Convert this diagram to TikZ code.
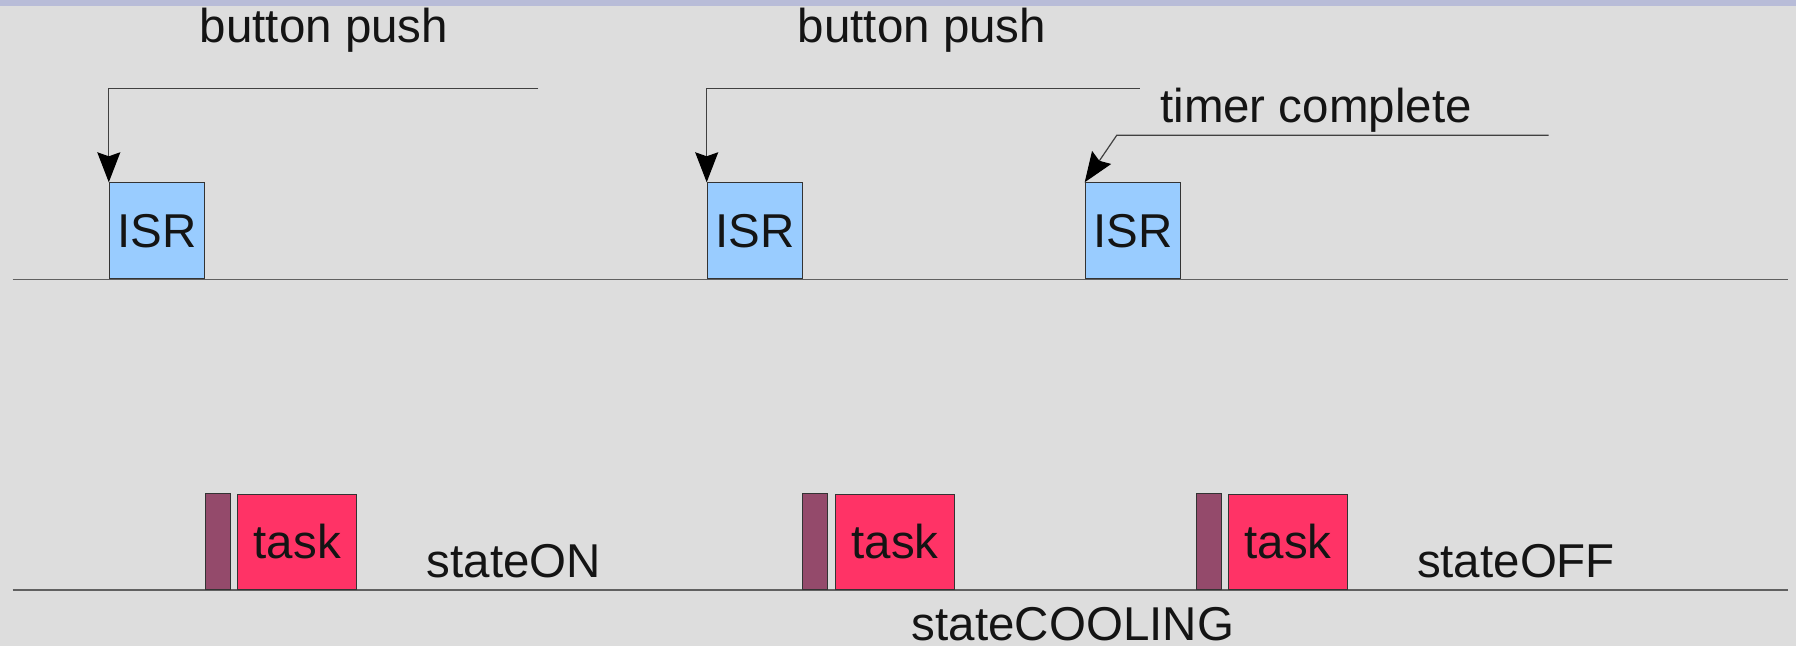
\documentclass[tikz,border=0pt]{standalone}
\usepackage{fontspec}
\setmainfont{Liberation Sans}
\usetikzlibrary{arrows.meta}
\definecolor{bg}{HTML}{DDDDDD}
\definecolor{band}{HTML}{B8BCD8}
\definecolor{isrfill}{HTML}{99CCFF}
\definecolor{taskfill}{HTML}{FF3366}
\definecolor{prefill}{HTML}{944A6B}
\definecolor{axis}{HTML}{606060}
\begin{document}
\begin{tikzpicture}[x=0.5pt,y=-0.5pt,
  lbl/.style={font=\fontsize{23.75pt}{28pt}\selectfont, text=black!92, inner sep=0pt},
  isrbox/.style={draw=black!80, line width=0.6pt, fill=isrfill, inner sep=0pt,
    minimum width=47.5pt, minimum height=48pt, anchor=south west, lbl},
  prebox/.style={draw=black!80, line width=0.6pt, fill=prefill, inner sep=0pt,
    minimum width=12.5pt, minimum height=48pt, anchor=south west},
  taskbox/.style={draw=black!80, line width=0.6pt, fill=taskfill, inner sep=0pt,
    minimum width=59.5pt, minimum height=47.5pt, anchor=south west, lbl},
  timeline/.style={draw=axis, line width=0.8pt},
  signal/.style={draw=black!75, line width=0.6pt},
  hit/.style={signal, -{Stealth[length=15pt, width=11.5pt, inset=2pt, color=black]}}]

% canvas and top band
\useasboundingbox[fill=bg] (0,0) rectangle (1796,646);
\fill[band] (0,0) rectangle (1796,6);

% time axes
\coordinate (t0) at (12.6,279.5);
\coordinate (t1) at (1788,279.5);
\coordinate (b0) at (12.6,589.9);
\coordinate (b1) at (1788,589.9);
\draw[timeline] (t0) -- (t1);
\draw[timeline] (b0) -- (b1);

% interrupt service routines
\node[isrbox] (isr1) at (108.8,279.5) {ISR};
\node[isrbox] (isr2) at (706.7,279.5) {ISR};
\node[isrbox] (isr3) at (1084.7,279.5) {ISR};

% dispatch slices and tasks
\node[prebox] (pre1) at (205,589.9) {};
\node[taskbox] (task1) at (237.1,589.9) {task};
\node[prebox] (pre2) at (801.8,589.9) {};
\node[taskbox] (task2) at (835,589.9) {task};
\node[prebox] (pre3) at (1195.8,589.9) {};
\node[taskbox] (task3) at (1227.9,589.9) {task};

% event labels
\node[lbl] (push1) at (324,30) {button push};
\node[lbl] (push2) at (922,30) {button push};
\node[lbl] (timer) at (1316,110) {timer complete};

% state labels
\node[lbl] (son) at (514,561) {stateON};
\node[lbl] (scool) at (1073,624) {stateCOOLING};
\node[lbl] (soff) at (1516,561) {stateOFF};

% event arrows
\coordinate (e1) at (538.3,88.2);
\coordinate (e2) at (1139.7,88.2);
\coordinate (e3) at (1548.6,135.2);
\coordinate (k3) at (1116.8,135.2);
\draw[hit] (e1) -| (isr1.north west);
\draw[hit] (e2) -| (isr2.north west);
\draw[hit] (e3) -- (k3) -- (isr3.north west);
\end{tikzpicture}
\end{document}
